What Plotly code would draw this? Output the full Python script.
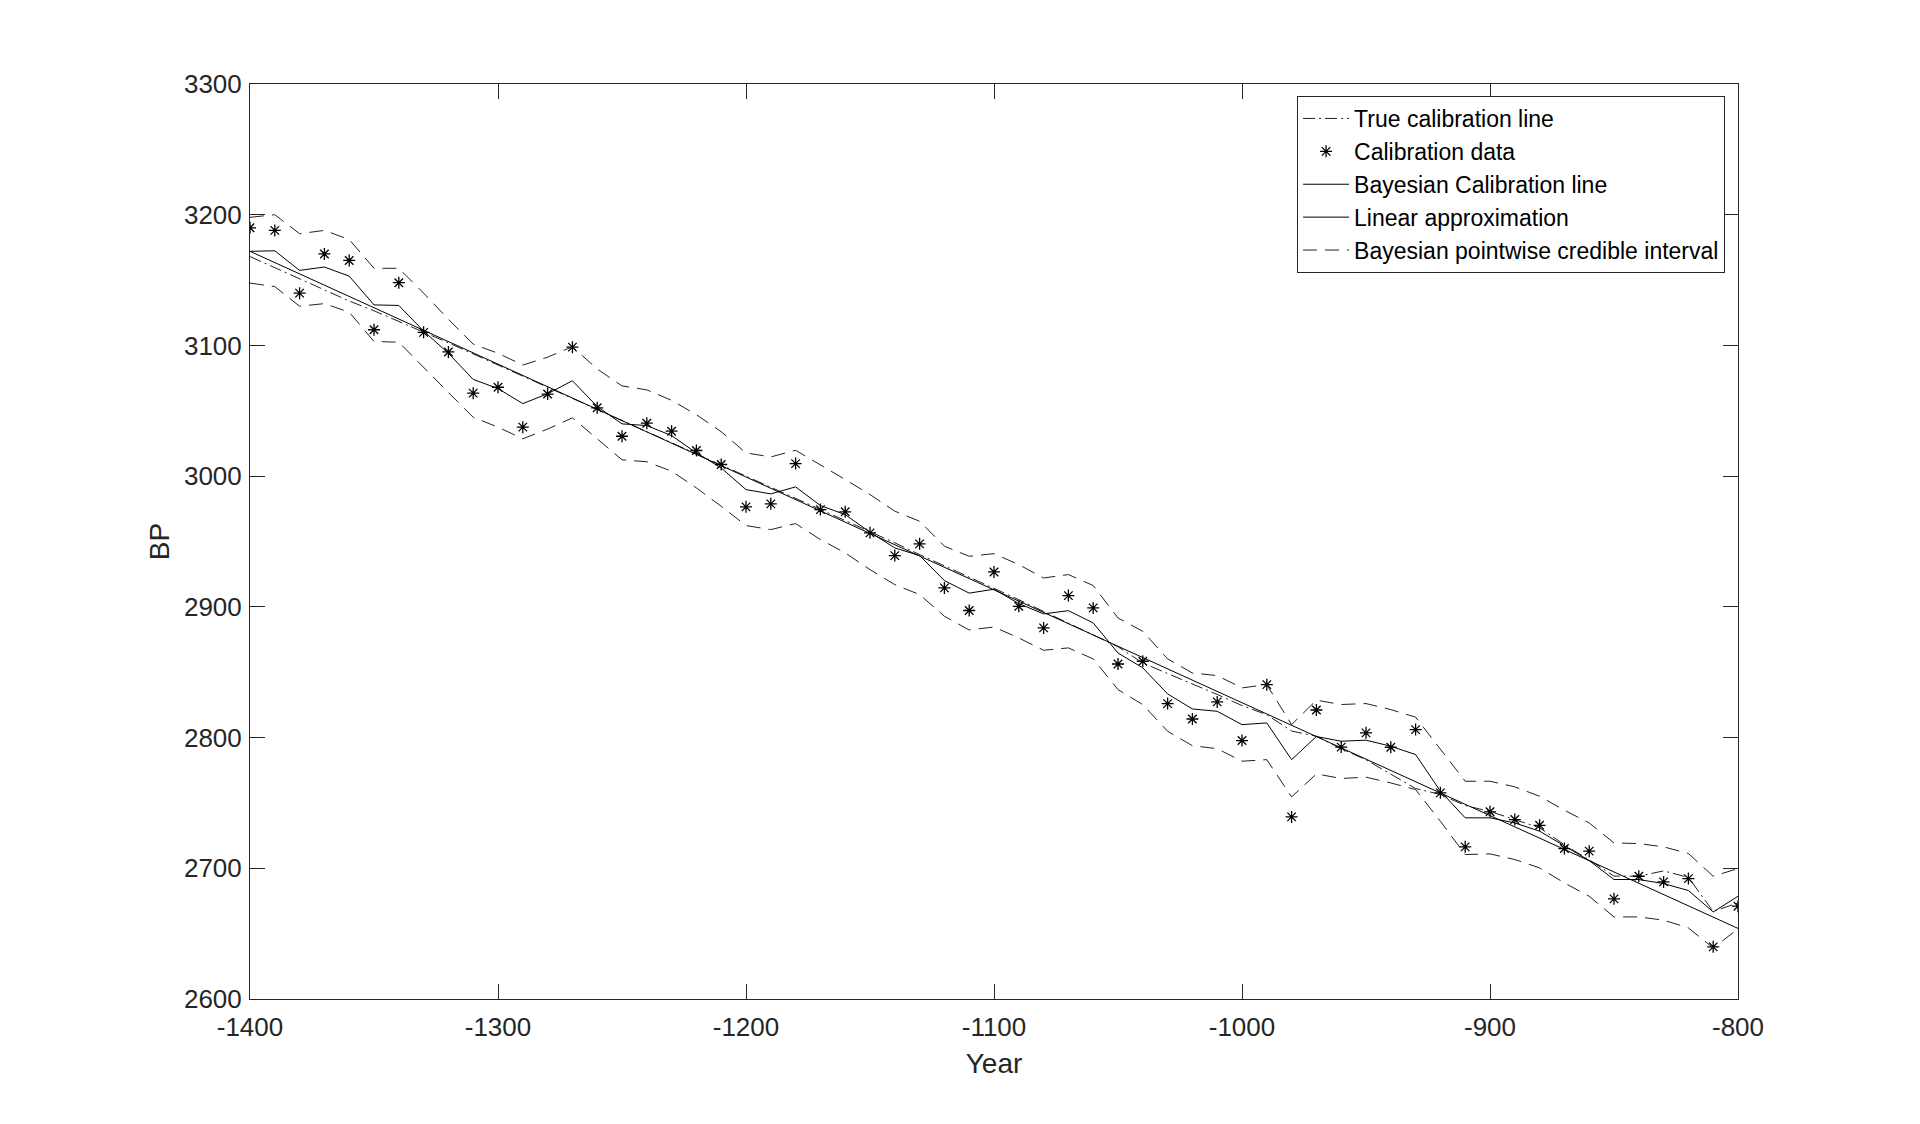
import plotly.graph_objects as go

years = list(range(-1400, -799, 10))

true_line = [3168, 3159.5, 3151, 3142.5, 3134, 3126.5, 3118.5, 3110.5, 3102, 3093.5,
             3085, 3076.5, 3068, 3059.5, 3051, 3042.5, 3034.5, 3026, 3017.5, 3009,
             3000.5, 2992, 2983.5, 2975, 2966.5, 2957.5, 2949, 2940, 2931.5, 2923,
             2914.5, 2905.5, 2896.5, 2887.5, 2878.5, 2869.5, 2857, 2849, 2841.5, 2833,
             2824.5, 2817.5, 2805, 2801, 2791.5, 2783, 2772, 2761, 2756.5, 2748,
             2743.5, 2737.5, 2731, 2718, 2706.5, 2694, 2694, 2698, 2693, 2667,
             2673.5]

calib_data = [3190, 3188, 3140, 3170, 3165, 3112, 3148, 3110, 3095, 3063.5,
              3068, 3037.5, 3062.8, 3098.7, 3052.3, 3030.5, 3040.5, 3034.4, 3019.6, 3008.9,
              2976.5, 2978.8, 3009.6, 2974.4, 2972.7, 2956.6, 2939.2, 2948.2, 2914.5, 2897.2,
              2926.7, 2900.4, 2883.9, 2908.6, 2899.2, 2856.3, 2858.4, 2826, 2814.2, 2827.3,
              2797.7, 2840.5, 2739.3, 2821.1, 2792.7, 2803.6, 2792.6, 2806.1, 2757.7, 2716.4,
              2743.2, 2737.3, 2732.9, 2715.1, 2713.1, 2676.6, 2693.9, 2689.6, 2692.1, 2639.9,
              2671]

bayes_line = [3172, 3172.4, 3157.4, 3160, 3153, 3131, 3130.6, 3111, 3094, 3074,
              3067, 3055.5, 3063, 3073, 3053.3, 3040, 3038.7, 3031, 3017.8, 3006.3,
              2989.7, 2986.4, 2991.8, 2977.5, 2970.6, 2957.1, 2945.1, 2939.2, 2920.1, 2910.5,
              2913.5, 2902.5, 2894.6, 2897.1, 2887.7, 2864.7, 2853.3, 2833.4, 2821.9, 2820.1,
              2809.9, 2811.2, 2783.1, 2800.8, 2797.2, 2798, 2793.4, 2787, 2759, 2738.6,
              2738.6, 2734.7, 2728.4, 2716.9, 2705.9, 2691.4, 2691.4, 2688.3, 2683, 2666.6,
              2678.6]

upper_ci = [3198, 3200, 3185.5, 3188, 3181, 3159, 3159, 3140, 3120, 3101,
            3094, 3085, 3091, 3099, 3082, 3069, 3066, 3058, 3047, 3034,
            3017.8, 3014.7, 3019.8, 3008.9, 2997.4, 2985.9, 2973.2, 2965.5, 2946.4, 2938.7,
            2940.7, 2932.3, 2922.1, 2924.7, 2916.3, 2891.5, 2881.3, 2860.2, 2849.4, 2847.4,
            2838, 2840.5, 2809.9, 2828.6, 2825.3, 2826, 2821.4, 2815.6, 2790.8, 2766.6,
            2766.6, 2762.3, 2755.1, 2744.4, 2734.7, 2719.4, 2718.9, 2716.4, 2711.3, 2693.9,
            2699.8]

lower_ci = [3147.7, 3145, 3130, 3132, 3125.5, 3103, 3102.5, 3083, 3064, 3045,
            3037.5, 3028.6, 3036, 3044.6, 3028.6, 3012.5, 3011, 3003.8, 2991, 2977,
            2962.2, 2959.1, 2963.7, 2951.5, 2941.3, 2928.5, 2917, 2909.4, 2892.8, 2882.3,
            2884.6, 2876.2, 2866.8, 2868.6, 2860.2, 2836.7, 2825.2, 2804.8, 2793.8, 2791.5,
            2781.9, 2783.1, 2754.6, 2772.2, 2768.7, 2769.7, 2765.3, 2760.2, 2736, 2710.5,
            2711, 2706.7, 2700.3, 2688.8, 2678.6, 2662.8, 2662.8, 2660.3, 2654.4, 2639.1,
            2653.6]

linear_years = [-1400, -800]
linear_vals = [3172, 2654]

x_ticks = [-1400, -1300, -1200, -1100, -1000, -900, -800]
x_tick_labels = ["-1400", "-1300", "-1200", "-1100", "-1000", "-900", "-800"]
y_ticks = [2600, 2700, 2800, 2900, 3000, 3100, 3200, 3300]
y_tick_labels = ["2600", "2700", "2800", "2900", "3000", "3100", "3200", "3300"]

FONT = "Liberation Sans, Arial, Helvetica, sans-serif"
AX = "#262626"

fig = go.Figure()

fig.add_trace(go.Scatter(x=years, y=true_line, mode="lines", name="True calibration line",
                         line=dict(color="#222222", width=1, dash="12px,4px,2px,4px")))
fig.add_trace(go.Scatter(x=years, y=calib_data, mode="markers", name="Calibration data",
                         marker=dict(symbol="asterisk-open", size=10, color="black",
                                     line=dict(color="black", width=1.3))))
fig.add_trace(go.Scatter(x=years, y=bayes_line, mode="lines", name="Bayesian Calibration line",
                         line=dict(color="black", width=1)))
fig.add_trace(go.Scatter(x=linear_years, y=linear_vals, mode="lines", name="Linear approximation",
                         line=dict(color="black", width=1)))
fig.add_trace(go.Scatter(x=years, y=upper_ci, mode="lines", name="Bayesian pointwise credible interval",
                         line=dict(color="#222222", width=1, dash="14px,8px")))
fig.add_trace(go.Scatter(x=years, y=lower_ci, mode="lines", name="Bayesian pointwise credible interval",
                         showlegend=False,
                         line=dict(color="#222222", width=1, dash="14px,8px")))

fig.update_layout(
    width=1920, height=1124,
    margin=dict(l=250, r=182, t=84, b=125, autoexpand=False),
    paper_bgcolor="white", plot_bgcolor="white",
    font=dict(family=FONT, color=AX),
    legend=dict(x=0.9913, y=0.9869, xanchor="right", yanchor="top",
                bgcolor="white", bordercolor=AX, borderwidth=1,
                font=dict(family=FONT, size=23, color="black"),
                tracegroupgap=0, itemwidth=46),
)

fig.update_xaxes(range=[-1400, -800], tickvals=x_ticks, ticktext=x_tick_labels,
                 showgrid=False, zeroline=False, showline=True, linecolor=AX, linewidth=1,
                 mirror="ticks", ticks="inside", ticklen=15, tickcolor=AX, tickwidth=1,
                 ticklabelstandoff=5,
                 tickfont=dict(size=26, color=AX, family=FONT),
                 title=dict(text="Year", font=dict(size=28, color=AX, family=FONT), standoff=12))
fig.update_yaxes(range=[2600, 3300], tickvals=y_ticks, ticktext=y_tick_labels,
                 showgrid=False, zeroline=False, showline=True, linecolor=AX, linewidth=1,
                 mirror="ticks", ticks="inside", ticklen=15, tickcolor=AX, tickwidth=1,
                 ticklabelstandoff=2,
                 tickfont=dict(size=26, color=AX, family=FONT),
                 title=dict(text="BP", font=dict(size=28, color=AX, family=FONT), standoff=6))

fig.write_html("out.html")
